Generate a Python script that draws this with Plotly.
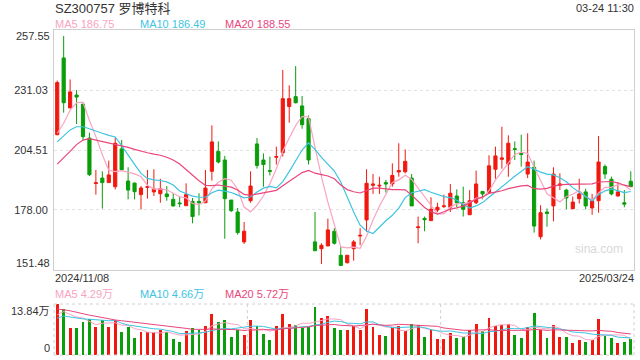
import plotly.graph_objects as go
import pandas as pd

# ---- data ----
opens = [211.3, 245.2, 223.1, 228.8, 224.8, 209.8, 189.7, 192.1, 190.1, 188.3,
         205.0, 190.8, 189.9, 184.8, 188.0, 186.0, 185.2, 185.1, 182.7, 181.1,
         179.9, 181.8, 181.8, 181.2, 195.1, 203.9, 200.1, 182.4, 177.1, 163.9,
         182.1, 207.2, 200.1, 195.4, 201.3, 203.3, 223.7, 228.1, 224.0, 218.4,
         163.9, 160.9, 162.1, 168.6, 158.0, 154.7, 160.9, 166.5, 173.6, 188.9,
         188.6, 190.1, 189.5, 194.8, 194.9, 192.1, 170.2, 174.3, 173.3, 178.0,
         179.5, 179.2, 184.2, 181.2, 175.9, 181.2, 186.2, 185.7, 196.0, 200.4,
         198.3, 205.1, 203.0, 193.9, 196.9, 166.2, 177.1, 179.8, 188.9, 186.8,
         178.6, 183.0, 186.0, 178.9, 182.1, 197.2, 191.6, 184.2, 181.2, 190.7]
highs = [235.2, 254.9, 235.7, 231.0, 224.8, 212.2, 195.7, 195.1, 199.8, 210.1,
         208.9, 196.9, 190.1, 188.6, 195.7, 196.0, 191.8, 188.6, 185.4, 183.9,
         189.8, 183.3, 185.4, 195.7, 215.4, 208.3, 201.9, 182.4, 178.9, 172.7,
         195.1, 209.8, 203.0, 201.6, 206.0, 239.9, 233.1, 241.6, 228.4, 219.8,
         177.1, 163.3, 174.2, 170.0, 161.8, 158.0, 164.7, 170.0, 196.0, 193.9,
         192.7, 191.3, 198.6, 207.5, 204.8, 193.9, 175.1, 175.1, 183.6, 181.2,
         184.8, 189.5, 187.1, 188.3, 186.8, 195.4, 186.2, 202.2, 206.0, 214.8,
         211.0, 208.3, 211.3, 211.9, 199.8, 180.1, 178.6, 196.9, 194.2, 187.4,
         183.9, 191.8, 187.4, 185.1, 210.7, 198.1, 192.7, 190.1, 186.8, 195.1]
lows = [211.0, 221.0, 223.0, 216.0, 208.9, 193.0, 184.8, 178.6, 190.1, 187.1,
        195.7, 182.7, 182.7, 178.3, 183.0, 184.2, 181.2, 182.1, 179.5, 179.2,
        179.9, 172.1, 175.6, 181.2, 191.0, 198.6, 165.3, 177.1, 167.1, 163.0,
        181.2, 196.3, 188.3, 193.3, 198.1, 201.6, 216.6, 225.1, 213.9, 198.1,
        160.0, 154.1, 162.1, 162.7, 153.2, 154.4, 155.6, 162.4, 168.3, 185.1,
        185.1, 185.7, 188.3, 192.7, 194.2, 179.8, 163.3, 168.6, 173.3, 177.1,
        178.9, 177.1, 179.2, 175.1, 175.9, 180.6, 182.7, 185.7, 191.8, 196.3,
        192.7, 200.1, 197.2, 192.1, 168.0, 165.0, 170.6, 173.0, 186.8, 178.3,
        178.3, 180.9, 178.3, 175.9, 176.8, 191.8, 184.5, 183.9, 179.2, 188.3]
closes = [234.3, 225.4, 230.2, 227.9, 210.4, 193.6, 190.0, 190.1, 193.5, 207.5,
          195.8, 186.8, 186.1, 187.7, 188.3, 187.3, 187.4, 183.9, 179.8, 180.8,
          184.8, 175.1, 181.2, 187.7, 208.1, 199.2, 183.0, 177.7, 168.0, 168.6,
          188.6, 197.7, 198.1, 195.1, 201.6, 227.2, 227.2, 225.4, 215.7, 200.1,
          160.0, 162.4, 169.2, 163.3, 153.5, 158.0, 163.9, 166.8, 189.8, 189.5,
          188.9, 189.5, 193.3, 195.4, 199.5, 179.8, 170.5, 173.7, 178.3, 179.2,
          179.8, 185.4, 181.2, 178.3, 182.1, 189.5, 185.1, 197.5, 201.9, 201.0,
          207.5, 204.8, 202.5, 199.2, 170.9, 176.8, 176.5, 193.9, 189.5, 183.3,
          181.5, 185.1, 179.8, 182.1, 199.2, 193.9, 185.1, 186.0, 180.6, 188.3]
volumes = [13.84, 12.49, 7.42, 7.42, 8.87, 9.77, 7.60, 9.41, 7.60, 9.41,
           6.33, 7.60, 4.71, 6.15, 6.15, 6.15, 6.70, 6.15, 4.34, 3.62,
           6.52, 7.42, 6.70, 7.78, 11.22, 8.87, 9.41, 4.89, 6.88, 5.43,
           9.41, 7.78, 5.79, 3.98, 7.78, 11.22, 8.51, 8.14, 7.42, 7.60,
           13.03, 10.14, 10.68, 7.42, 6.70, 6.88, 7.78, 6.88, 12.58, 7.69,
           5.52, 5.25, 7.42, 7.96, 6.43, 8.51, 8.14, 4.98, 6.88, 4.43,
           4.43, 6.06, 4.71, 4.98, 6.70, 8.51, 6.52, 10.14, 7.78, 8.14,
           8.51, 5.52, 4.71, 7.60, 11.49, 6.88, 4.71, 8.14, 4.98, 4.98,
           3.35, 4.16, 3.62, 4.16, 9.86, 5.25, 4.71, 3.35, 3.62, 4.43]

# moving-average values at the left edge (depend on earlier, unseen days)
ma5_head = [211.9, 216.3, 222.2, 225.4]
ma10_head = [208.1, 210.7, 213.4, 214.8, 214.8, 213.9, 212.8, 211.9, 211.0]
ma20_head = [198.3, 201.0, 203.9, 206.9, 208.9, 209.5, 208.9, 208.1, 207.5, 207.2,
             206.6, 205.7, 204.8, 203.9, 203.3, 202.7, 202.2, 201.3, 200.1]
vma5_head = [10.9, 11.8, 11.0, 10.3]
vma10_head = [10.0, 10.6, 10.3, 10.0, 9.8, 9.7, 9.5, 9.4, 9.3]
vma20_head = [12.5, 12.3, 12.0, 11.6, 11.1, 10.8, 10.5, 10.1, 9.8, 9.5,
              9.3, 9.1, 8.9, 8.8, 8.6, 8.4, 8.2, 8.0, 7.8]

title_text = "SZ300757 罗博特科"
time_text = "03-24 11:30"
price_ma_labels = ["MA5 186.75", "MA10 186.49", "MA20 188.55"]
vol_ma_labels = ["MA5 4.29万", "MA10 4.66万", "MA20 5.72万"]
price_ticks = [151.48, 178.00, 204.51, 231.03, 257.55]
vol_tick_labels = ["13.84万", "0"]
date_labels = ["2024/11/08", "2025/03/24"]
watermark = "sina.com"

# ---- derived ----
n = len(closes)
xs = list(range(n))
cs = pd.Series(closes)
vs = pd.Series(volumes)


def ma(series, w, head):
    r = series.rolling(w).mean().tolist()
    return head + r[len(head):]


ma5 = ma(cs, 5, ma5_head)
ma10 = ma(cs, 10, ma10_head)
ma20 = ma(cs, 20, ma20_head)
vma5 = ma(vs, 5, vma5_head)
vma10 = ma(vs, 10, vma10_head)
vma20 = ma(vs, 20, vma20_head)

RED = "#f0190f"
GREEN = "#0a9e0a"
C5 = "#f9a3c2"
C10 = "#3ec4e2"
C20 = "#ea467c"
TXT = "#333333"
FONT = "Liberation Sans, Arial, Noto Sans CJK SC, sans-serif"

W, H = 640, 360
L, R = 54, 634
MAIN_T, MAIN_B = 30, 270
VOL_T, VOL_B = 304, 355


def px_x(p):
    return p / W


def px_y(p):
    return 1 - p / H


fig = go.Figure()

fig.add_trace(go.Candlestick(
    x=xs, open=opens, high=highs, low=lows, close=closes,
    increasing=dict(line=dict(color=RED, width=1), fillcolor=RED),
    decreasing=dict(line=dict(color=GREEN, width=1), fillcolor=GREEN),
    whiskerwidth=0, hoverinfo="skip", xaxis="x", yaxis="y", showlegend=False))

for ys, col in [(ma5, C5), (ma10, C10), (ma20, C20)]:
    fig.add_trace(go.Scatter(x=xs, y=ys, mode="lines", line=dict(color=col, width=1.2),
                             hoverinfo="skip", xaxis="x", yaxis="y", showlegend=False))

vcolors = [RED if c >= o else GREEN for o, c in zip(opens, closes)]
fig.add_trace(go.Bar(x=xs, y=volumes, marker=dict(color=vcolors, line=dict(width=0)),
                     width=0.45, hoverinfo="skip", xaxis="x2", yaxis="y2", showlegend=False))
for ys, col in [(vma5, C5), (vma10, C10), (vma20, C20)]:
    fig.add_trace(go.Scatter(x=xs, y=ys, mode="lines", line=dict(color=col, width=1),
                             hoverinfo="skip", xaxis="x2", yaxis="y2", showlegend=False))

xdom = [px_x(L), px_x(R)]
fig.update_layout(
    width=W, height=H, autosize=False,
    margin=dict(l=0, r=0, t=0, b=0),
    paper_bgcolor="white", plot_bgcolor="white",
    font=dict(family=FONT, size=11, color=TXT),
    hovermode=False, bargap=0,
    xaxis=dict(domain=xdom, range=[-0.5, n - 0.5], anchor="y", showgrid=False,
               showticklabels=False, showline=True, mirror=True, linecolor="#cfcfcf",
               linewidth=1, zeroline=False, rangeslider=dict(visible=False), fixedrange=True),
    yaxis=dict(domain=[px_y(MAIN_B), px_y(MAIN_T)], range=[price_ticks[0], price_ticks[-1]],
               anchor="x", tickvals=price_ticks[1:-1],
               ticktext=[f"{v:.2f}" for v in price_ticks[1:-1]],
               showgrid=True, gridcolor="#e2e2e2", griddash="dot", gridwidth=1,
               showline=True, mirror=True, linecolor="#cfcfcf", linewidth=1,
               zeroline=False, ticks="", ticklabelstandoff=3, fixedrange=True,
               tickfont=dict(size=11, color=TXT)),
    xaxis2=dict(domain=xdom, range=[-0.5, n - 0.5], anchor="y2", showgrid=False,
                showticklabels=False, showline=False, zeroline=False, fixedrange=True),
    yaxis2=dict(domain=[px_y(VOL_B), px_y(VOL_T)], range=[0, 13.84], anchor="x2",
                showgrid=False, showticklabels=False, showline=False, zeroline=False,
                fixedrange=True),
)

# dotted frame and vertical grid of the volume panel
dot = dict(color="#d0d0d0", width=1, dash="dot")
shapes = [
    dict(type="line", xref="paper", yref="paper", x0=px_x(L), x1=px_x(R), y0=px_y(VOL_T), y1=px_y(VOL_T), line=dot),
    dict(type="line", xref="paper", yref="paper", x0=px_x(L), x1=px_x(R), y0=px_y(VOL_B), y1=px_y(VOL_B), line=dot),
    dict(type="line", xref="paper", yref="paper", x0=px_x(L), x1=px_x(L), y0=px_y(VOL_B), y1=px_y(VOL_T), line=dot),
    dict(type="line", xref="paper", yref="paper", x0=px_x(R), x1=px_x(R), y0=px_y(VOL_B), y1=px_y(VOL_T), line=dot),
    dict(type="line", xref="x2 domain", yref="paper", x0=1 / 3, x1=1 / 3, y0=px_y(VOL_B), y1=px_y(VOL_T), line=dot),
    dict(type="line", xref="x2 domain", yref="paper", x0=2 / 3, x1=2 / 3, y0=px_y(VOL_B), y1=px_y(VOL_T), line=dot),
]
fig.update_layout(shapes=shapes)

ann = []


def add(text, x, y, xa="left", size=11, color=TXT):
    ann.append(dict(text=text, x=px_x(x), y=px_y(y), xref="paper", yref="paper",
                    xanchor=xa, yanchor="middle", showarrow=False,
                    font=dict(size=size, color=color, family=FONT)))


add(title_text, 53, 8, size=13)
add(time_text, 636, 8, xa="right", size=11)
for lab, x, col in zip(price_ma_labels, [53, 138, 223], [C5, C10, C20]):
    add(lab, x, 24, color=col)
add(f"{price_ticks[-1]:.2f}", 52, 36, xa="right")
add(f"{price_ticks[0]:.2f}", 52, 263, xa="right")
add(date_labels[0], 53, 278)
add(date_labels[1], 636, 278, xa="right")
for lab, x, col in zip(vol_ma_labels, [53, 138, 223], [C5, C10, C20]):
    add(lab, x, 294, color=col)
add(vol_tick_labels[0], 52, 311, xa="right")
add(vol_tick_labels[1], 52, 348, xa="right")
add(watermark, 625, 249, xa="right", size=12, color="#d9d9d9")
fig.update_layout(annotations=ann)

fig.write_html("out.html",
               config={"displayModeBar": False, "staticPlot": True},
               post_script="document.body.style.margin='0';document.body.style.padding='0';"
                           "document.body.style.overflow='hidden';")
